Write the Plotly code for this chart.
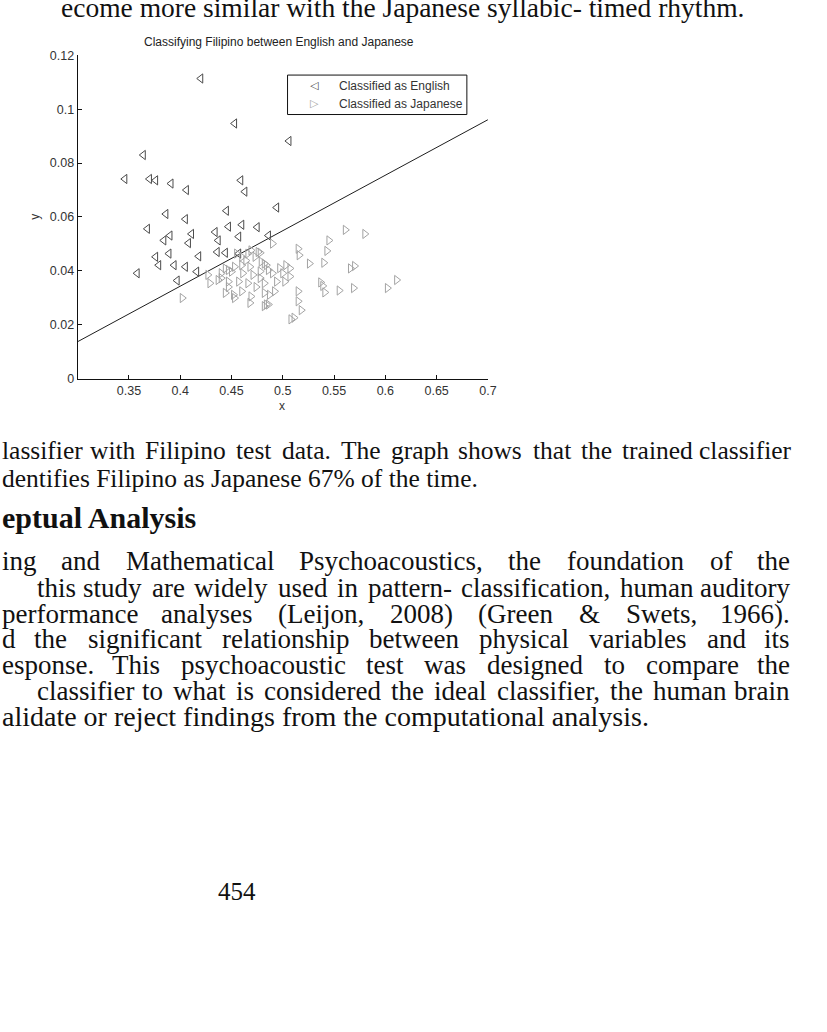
import plotly.graph_objects as go

# ---- data ----
english_x = [0.420, 0.453, 0.506, 0.364, 0.346, 0.370, 0.376, 0.391, 0.406, 0.459, 0.463,
             0.386, 0.405, 0.445, 0.368, 0.384, 0.390, 0.411, 0.408, 0.434, 0.437, 0.447,
             0.460, 0.457, 0.475, 0.494, 0.436, 0.444, 0.389, 0.376, 0.379, 0.394, 0.405,
             0.418, 0.416, 0.358, 0.397, 0.486, 0.457]
english_y = [0.1114, 0.0947, 0.0882, 0.0830, 0.0741, 0.0741, 0.0736, 0.0724, 0.0700, 0.0736, 0.0694,
             0.0611, 0.0592, 0.0623, 0.0556, 0.0513, 0.0531, 0.0537, 0.0503, 0.0544, 0.0513, 0.0564,
             0.0571, 0.0527, 0.0562, 0.0635, 0.0470, 0.0467, 0.0464, 0.0452, 0.0421, 0.0421, 0.0415,
             0.0454, 0.0397, 0.0391, 0.0364, 0.0531, 0.0464]

japanese_x = [0.561, 0.580, 0.545, 0.543, 0.540, 0.566, 0.570, 0.537, 0.539, 0.541, 0.555, 0.569, 0.602, 0.611,
              0.515, 0.516, 0.526, 0.515, 0.515, 0.518, 0.508, 0.511, 0.503, 0.507, 0.507, 0.502, 0.490, 0.478,
              0.492, 0.484, 0.468,
              0.460, 0.468, 0.482, 0.444, 0.450, 0.440, 0.447, 0.461, 0.471, 0.486, 0.490, 0.500, 0.457, 0.466,
              0.478, 0.482, 0.494, 0.444, 0.452, 0.460, 0.469, 0.482, 0.487, 0.486, 0.402, 0.427, 0.429, 0.437,
              0.440, 0.447, 0.453, 0.460, 0.466, 0.476, 0.479, 0.484, 0.469, 0.473, 0.455, 0.453, 0.482, 0.447,
              0.474, 0.497, 0.478, 0.464]
japanese_y = [0.0552, 0.0537, 0.0513, 0.0474, 0.0430, 0.0409, 0.0418, 0.0357, 0.0344, 0.0320, 0.0327, 0.0336, 0.0336, 0.0366,
              0.0482, 0.0458, 0.0427, 0.0324, 0.0287, 0.0254, 0.0220, 0.0226, 0.0421, 0.0409, 0.0379, 0.0360, 0.0501, 0.0467,
              0.0324, 0.0275, 0.0281,
              0.0421, 0.0415, 0.0427, 0.0409, 0.0397, 0.0373, 0.0360, 0.0391, 0.0385, 0.0403, 0.0391, 0.0391, 0.0360, 0.0354,
              0.0373, 0.0354, 0.0360, 0.0318, 0.0311, 0.0324, 0.0305, 0.0318, 0.0311, 0.0275, 0.0299, 0.0385, 0.0354, 0.0366,
              0.0391, 0.0403, 0.0415, 0.0452, 0.0464, 0.0470, 0.0434, 0.0421, 0.0476, 0.0452, 0.0464, 0.0299, 0.0269, 0.0340,
              0.0340, 0.0410, 0.0398, 0.0438]

boundary_x = [0.30, 0.70]
boundary_y = [0.0137, 0.0961]

x_ticks = [0.35, 0.4, 0.45, 0.5, 0.55, 0.6, 0.65, 0.7]
x_tick_labels = ["0.35", "0.4", "0.45", "0.5", "0.55", "0.6", "0.65", "0.7"]
y_ticks = [0, 0.02, 0.04, 0.06, 0.08, 0.1, 0.12]
y_tick_labels = ["0", "0.02", "0.04", "0.06", "0.08", "0.1", "0.12"]

chart_title = "Classifying Filipino between English and Japanese"
legend_names = ["Classified as English", "Classified as Japanese"]

top_line = "ecome more similar with the Japanese syllabic- timed rhythm."
caption_lines = ["lassifier with Filipino test data. The graph shows that the trained classifier",
                 "dentifies Filipino as Japanese 67% of the time."]
heading = "eptual Analysis"
para_lines = ["ing and Mathematical Psychoacoustics, the foundation of the",
              "this study are widely used in pattern- classification, human auditory",
              "performance analyses (Leijon, 2008) (Green & Swets, 1966).",
              "d the significant relationship between physical variables and its",
              "esponse. This psychoacoustic test was designed to compare the",
              "classifier to what is considered the ideal classifier, the human brain",
              "alidate or reject findings from the computational analysis."]
page_number = "454"

# ---- page geometry ----
FW, FH = 827, 1032

def px2x(p):
    return p / FW

def px2y(p):
    return 1 - p / FH

sans = "Liberation Sans, Arial, sans-serif"
serif = "Liberation Serif, Times New Roman, serif"

# Times advance widths (1/1000 em) used to spread justified lines
TW = {' ': 250, '%': 833, '&': 778, '(': 333, ')': 333, ',': 250, '-': 333, '.': 250, ':': 278, ';': 278,
      'A': 722, 'B': 667, 'C': 667, 'D': 722, 'E': 611, 'F': 556, 'G': 722, 'H': 722, 'I': 333, 'J': 389,
      'K': 722, 'L': 611, 'M': 889, 'N': 722, 'O': 722, 'P': 556, 'Q': 722, 'R': 667, 'S': 556, 'T': 611,
      'U': 722, 'V': 722, 'W': 944, 'X': 722, 'Y': 722, 'Z': 611,
      'a': 444, 'b': 500, 'c': 444, 'd': 500, 'e': 444, 'f': 333, 'g': 500, 'h': 500, 'i': 278, 'j': 278,
      'k': 500, 'l': 278, 'm': 778, 'n': 500, 'o': 500, 'p': 500, 'q': 500, 'r': 333, 's': 389, 't': 278,
      'u': 500, 'v': 500, 'w': 722, 'x': 500, 'y': 500, 'z': 444}

def text_width(s, size):
    return sum(TW.get(c, 500) for c in s) * size / 1000.0

# ---- figure ----
fig = go.Figure()
fig.add_trace(go.Scatter(x=boundary_x, y=boundary_y, mode="lines",
                         line=dict(color="#1e1e1e", width=1), showlegend=False, hoverinfo="skip"))
fig.add_trace(go.Scatter(x=english_x, y=english_y, mode="markers", name=legend_names[0],
                         marker=dict(symbol="triangle-left-open", size=8, color="#4a4a4a",
                                     line=dict(width=1, color="#4a4a4a"))))
fig.add_trace(go.Scatter(x=japanese_x, y=japanese_y, mode="markers", name=legend_names[1],
                         marker=dict(symbol="triangle-right-open", size=8, color="#a3a3a3",
                                     line=dict(width=1, color="#a3a3a3"))))

fig.update_layout(
    width=FW, height=FH, autosize=False,
    margin=dict(l=0, r=0, t=0, b=0),
    paper_bgcolor="white", plot_bgcolor="white",
    font=dict(family=sans, size=12, color="#222222"),
    showlegend=False,
    xaxis=dict(domain=[px2x(78.5), px2x(493.3)], range=[0.3, 0.7],
               tickmode="array", tickvals=x_ticks, ticktext=x_tick_labels,
               ticks="inside", ticklen=4, tickcolor="#111111",
               showline=True, linecolor="#111111", linewidth=1,
               showgrid=False, zeroline=False, tickfont=dict(size=12.5, color="#333333"),
               anchor="y"),
    yaxis=dict(domain=[px2y(376.7), px2y(49)], range=[0, 0.12],
               tickmode="array", tickvals=y_ticks, ticktext=y_tick_labels,
               ticks="inside", ticklen=4, tickcolor="#111111",
               showline=True, linecolor="#111111", linewidth=1,
               showgrid=False, zeroline=False, tickfont=dict(size=12.5, color="#333333"),
               anchor="x"),
)

ann = []
shapes = []

def add_text(txt, x, y, size, family, color="#111111", anchor="left", angle=0):
    ann.append(dict(text=txt, x=px2x(x), y=px2y(y), xref="paper", yref="paper",
                    xanchor=anchor, yanchor="middle", showarrow=False, textangle=angle,
                    font=dict(family=family, size=size, color=color)))

# chart texts
add_text(chart_title, 282, 35, 12, sans, "#222222", "center")
add_text("x", 285, 404, 12, sans, "#333333", "center")
add_text("y", 36, 213, 12, sans, "#333333", "center", angle=-90)

# legend box as in the reference
shapes.append(dict(type="rect", xref="paper", yref="paper",
                   x0=px2x(290.7), x1=px2x(472), y0=px2y(109), y1=px2y(69),
                   line=dict(color="#111111", width=1), fillcolor="white", layer="above"))
add_text("◁", 318, 80, 11, "DejaVu Sans", "#4a4a4a", "center")
add_text("▷", 318, 98.3, 11, "DejaVu Sans", "#a3a3a3", "center")
add_text(legend_names[0], 340.7, 80, 12, sans, "#333333")
add_text(legend_names[1], 340.7, 98.3, 12, sans, "#333333")

# page text: justified lines are spread word by word
def justified(txt, x0, x1, y, size, family=serif):
    words = txt.split()
    widths = [text_width(w, size) for w in words]
    gap = (x1 - x0 - sum(widths)) / (len(words) - 1)
    pos = x0
    last = len(words) - 1
    for i, wd in enumerate(widths):
        if i == 0:
            add_text(words[i], x0, y, size, family)
        elif i == last:
            add_text(words[i], x1, y, size, family, anchor="right")
        else:
            add_text(words[i], pos + wd / 2, y, size, family, anchor="center")
        pos += wd + gap

add_text(top_line, 60, 0, 27.5, serif)
justified(caption_lines[0], 0, 803, 450, 25.5)
add_text(caption_lines[1], 0, 478, 25.5, serif)
add_text("<b>%s</b>" % heading, 0, 518, 30, serif)

para_y = [562, 589, 615, 641, 667, 693, 719]
para_x0 = [0, 35, 0, 0, 0, 35, 0]
para_just = [True, True, True, True, True, True, False]
for t, yy, x0, j in zip(para_lines, para_y, para_x0, para_just):
    if j:
        justified(t, x0, 801, yy, 27)
    else:
        add_text(t, x0, yy, 28, serif)

add_text(page_number, 240, 897, 25, serif, anchor="center")

fig.update_layout(annotations=ann, shapes=shapes)

fig.write_html("out.html", config={"displayModeBar": False},
               post_script="document.body.style.margin='0';")
